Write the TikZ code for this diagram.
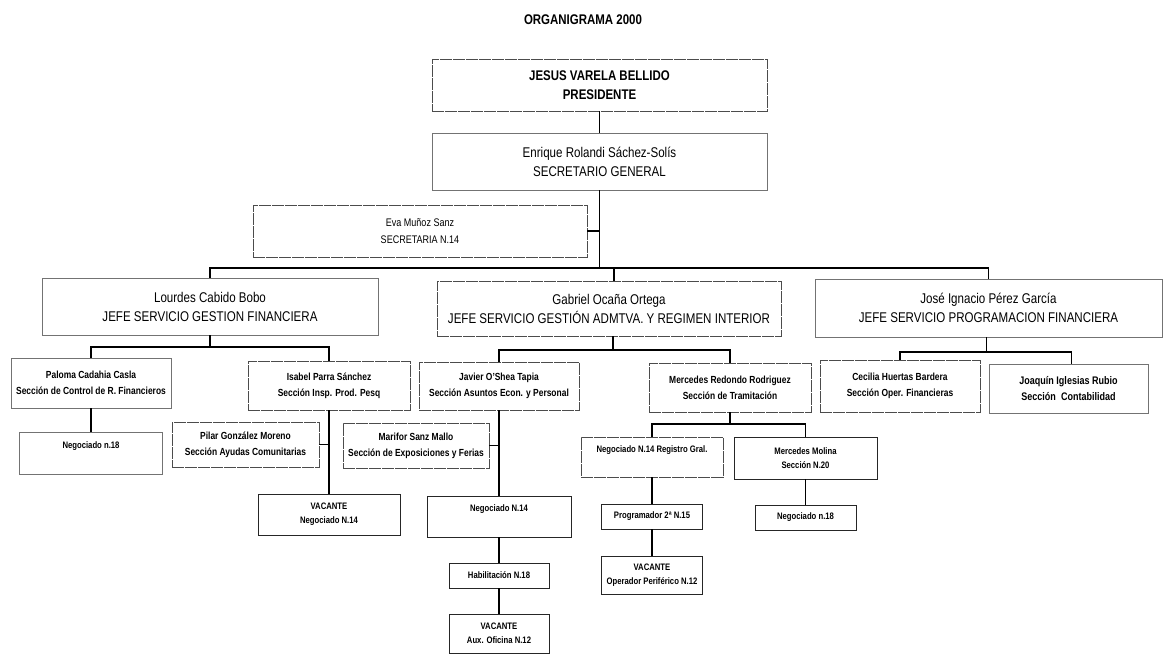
\documentclass[tikz,border=0pt]{standalone}
\usepackage{fontspec}
\setmainfont{Liberation Sans}[FakeStretch=0.82]
\begin{document}
\begin{tikzpicture}[x=1pt,y=-1pt,
  box/.style={draw=black!55, line width=0.8pt, align=center, inner sep=0pt, fill=white},
  rough/.style={box, draw=black!70, dash pattern=on 12pt off 1pt},
  dark/.style={box, draw=black!85},
  big/.style={font=\fontsize{14.1}{19}\selectfont},
  bigb/.style={font=\bfseries\fontsize{14}{18.5}\selectfont},
  mid/.style={font=\bfseries\fontsize{10.3}{16}\selectfont},
  eva/.style={font=\fontsize{11}{16.5}\selectfont},
  tiny/.style={font=\bfseries\fontsize{9.4}{13.8}\selectfont},
  link/.style={draw=black, line width=1.3pt},
  wh/.style 2 args={minimum width=#1pt, minimum height=#2pt}
]
\useasboundingbox (0,0) rectangle (1172,666);
\fill[white] (0,0) rectangle (1172,666);

\node[font=\bfseries\fontsize{14}{16}\selectfont] (title) at (583,20) {ORGANIGRAMA 2000};

% level 0-1
\node[rough, bigb, wh={335}{52}] (pres) at (599.5,85) {JESUS VARELA BELLIDO\\PRESIDENTE};
\node[box, big, wh={335}{57}] (sec) at (599.5,161.5) {Enrique Rolandi Sáchez-Solís\\SECRETARIO GENERAL};
\node[rough, eva, wh={334}{52}] (eva) at (420,231) {Eva Muñoz Sanz\\SECRETARIA N.14};

% level 2
\node[box, big, wh={336}{57}] (lour) at (210,306.5) {Lourdes Cabido Bobo\\JEFE SERVICIO GESTION FINANCIERA};
\node[rough, big, wh={344}{55}] (gab) at (609,308.5) {Gabriel Ocaña Ortega\\JEFE SERVICIO GESTIÓN ADMTVA. Y REGIMEN INTERIOR};
\node[box, big, wh={347}{58}] (jose) at (988.5,308) {José Ignacio Pérez García\\JEFE SERVICIO PROGRAMACION FINANCIERA};

% Lourdes branch
\node[box, mid, wh={160}{50}] (pal) at (91,383) {Paloma Cadahia Casla\\Sección de Control de R. Financieros};
\node[box, tiny, wh={143}{42}, text height=16.5pt, text depth=25.5pt] (neg18a) at (91,453) {Negociado n.18};
\node[rough, mid, wh={162}{49}] (isa) at (329,385.5) {Isabel Parra Sánchez\\Sección Insp. Prod. Pesq};
\node[rough, mid, wh={147}{45}] (pil) at (245.5,444.5) {Pilar González Moreno\\Sección Ayudas Comunitarias};
\node[dark, tiny, wh={142}{41}] (vacA) at (329,514.5) {VACANTE\\Negociado N.14};

% Gabriel branch
\node[rough, mid, wh={160}{48}] (jav) at (499,386) {Javier O'Shea Tapia\\Sección Asuntos Econ. y Personal};
\node[rough, mid, wh={146}{45}] (mar) at (416,445.5) {Marifor Sanz Mallo\\Sección de Exposiciones y Ferias};
\node[dark, tiny, wh={144}{41}, text height=15.5pt, text depth=25.5pt] (neg14) at (499,516.5) {Negociado N.14};
\node[dark, tiny, wh={100}{25}] (hab) at (499,575.5) {Habilitación N.18};
\node[dark, tiny, wh={100}{39}] (vacAux) at (499,633.5) {VACANTE\\Aux. Oficina N.12};

\node[rough, mid, wh={162}{49}] (mer) at (730,387.5) {Mercedes Redondo Rodriguez\\Sección de Tramitación};
\node[rough, tiny, wh={142}{40}, text height=15.5pt, text depth=24.5pt] (reg) at (652,457) {Negociado N.14 Registro Gral.};
\node[dark, tiny, wh={143}{42}] (mol) at (805.5,458) {Mercedes Molina\\Sección N.20};
\node[dark, tiny, wh={101}{25}] (neg18b) at (805.5,517.5) {Negociado n.18};
\node[dark, tiny, wh={101}{25}] (prog) at (652,516.5) {Programador 2ª N.15};
\node[dark, tiny, wh={101}{38}] (vacOp) at (652,575) {VACANTE\\Operador Periférico N.12};

% José branch
\node[rough, mid, wh={160}{52}] (cec) at (900,386) {Cecilia Huertas Bardera\\Sección Oper. Financieras};
\node[box, font=\bfseries\fontsize{11}{16}\selectfont, wh={159}{49}] (joa) at (1068.5,388.5) {Joaquín Iglesias Rubio\\Sección~~Contabilidad};

% connectors
\draw[link] (pres.south) -- (sec.north);
\draw[link] (sec.south) -- (sec.south |- 0,268) coordinate (hub);
\draw[link] (eva.east) -- (eva.east -| sec.south);
\draw[link] (lour.north) -- (lour.north |- hub) -- (jose.north |- hub) -- (jose.north);
\draw[link] ([xshift=5pt]gab.north) -- ([xshift=5pt]gab.north |- hub);

\draw[link] (lour.south) -- (lour.south |- 0,347);
\draw[link] (pal.north) -- (pal.north |- 0,347) -| (isa.north);
\draw[link] (pal.south) -- (neg18a.north);
\draw[link] (isa.south) -- (vacA.north);
\draw[link] (pil.east) -- (pil.east -| isa.south);

\draw[link] ([xshift=4pt]gab.south) -- ([xshift=4pt]gab.south |- 0,350);
\draw[link] (jav.north) -- (jav.north |- 0,350) -| (mer.north);
\draw[link] (jav.south) -- (neg14.north);
\draw[link] (mar.east) -- (mar.east -| jav.south);
\draw[link] (neg14.south) -- (hab.north);
\draw[link] (hab.south) -- (vacAux.north);

\draw[link] (mer.south) -- (mer.south |- 0,424);
\draw[link] (reg.north) -- (reg.north |- 0,424) -| (mol.north);
\draw[link] (reg.south) -- (prog.north);
\draw[link] (prog.south) -- (vacOp.north);
\draw[link] (mol.south) -- (neg18b.north);

\draw[link] ([xshift=-2pt]jose.south) -- ([xshift=-2pt]jose.south |- 0,352);
\draw[link] (cec.north) -- (cec.north |- 0,352) -| ([xshift=3pt]joa.north);
\end{tikzpicture}
\end{document}
